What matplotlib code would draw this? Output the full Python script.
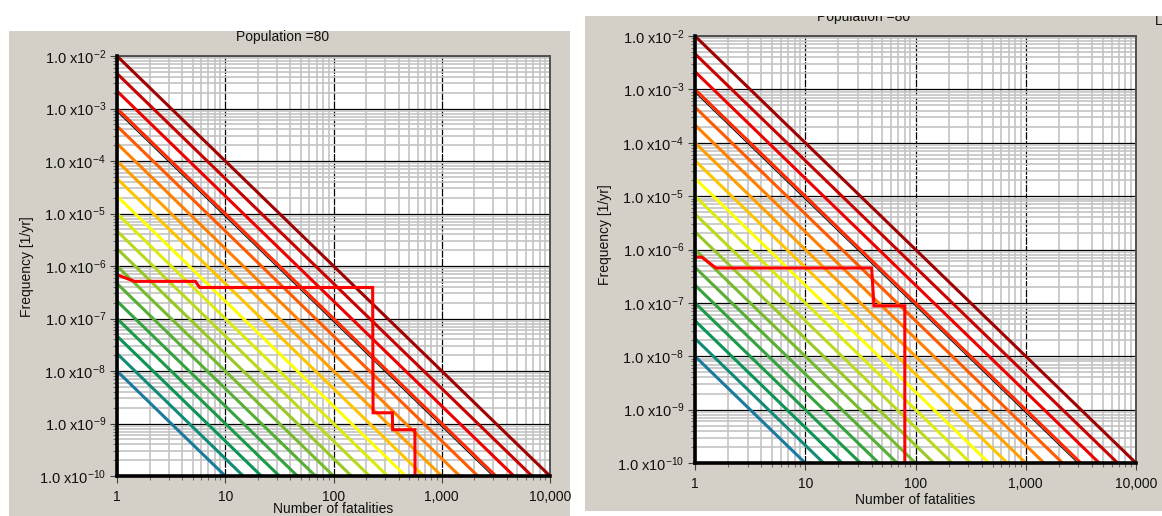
import matplotlib
matplotlib.use("Agg")
import matplotlib.pyplot as plt
from matplotlib.patches import Rectangle
from matplotlib.ticker import LogLocator, FuncFormatter, NullFormatter
from matplotlib.transforms import offset_copy
import numpy as np

plt.rcParams["font.family"] = ["Liberation Sans", "DejaVu Sans"]
plt.rcParams["mathtext.fontset"] = "custom"
plt.rcParams["mathtext.rm"] = "Liberation Sans"
plt.rcParams["mathtext.it"] = "Liberation Sans:italic"
plt.rcParams["mathtext.bf"] = "Liberation Sans:bold"

# frequency at N = 1 of each criterion line (F = C / N^2)
line_f1 = [1e-8, 2.15e-8, 4.64e-8, 1e-7, 2.15e-7, 4.64e-7, 1e-6, 2.15e-6, 4.64e-6,
           1e-5, 2.15e-5, 4.64e-5, 1e-4, 2.15e-4, 4.64e-4, 1e-3, 2.15e-3, 4.64e-3, 1e-2]
line_colors = ["#1b7a9e", "#138a78", "#0c9356", "#1c9a47", "#36a23d", "#56ae35",
               "#76bb2d", "#98c826", "#bcd81c", "#dcea10", "#ffff00", "#ffc400",
               "#ffa000", "#ff8000", "#ff5a00", "#ff2a00", "#ee0000", "#c80000", "#a00000"]
F_MIN = 1e-10
F_MAX = 1e-2
N_MIN = 1
N_MAX = 1e4

# F-N curves of the two cases
left_n = [1, 1.45, 5.3, 5.8, 230, 232, 350, 352, 565, 567]
left_f = [6.8e-7, 5.1e-7, 5.1e-7, 3.9e-7, 3.9e-7, 1.6e-9, 1.6e-9, 7.6e-10, 7.6e-10, 1e-10]
right_n = [1, 1.15, 1.55, 40, 42, 80, 80]
right_f = [7.2e-7, 7.2e-7, 4.5e-7, 4.5e-7, 8.8e-8, 8.8e-8, 1e-10]

W, H = 1162, 516
PANEL_BG = "#d4d0c8"


def px_box(x0, y0, x1, y1):
    """pixel box (top-left origin) -> figure fraction rect"""
    return [x0 / W, 1 - y1 / H, (x1 - x0) / W, (y1 - y0) / H]


def y_fmt(v, pos):
    e = int(round(np.log10(v)))
    return "1.0 x10$^{%d}$" % e


def x_fmt(v, pos):
    return f"{int(round(v)):,}"


def draw_panel(fig, ax, curve_n, curve_f):
    ax.set_xscale("log")
    ax.set_yscale("log")
    ax.set_xlim(N_MIN, N_MAX)
    ax.set_ylim(F_MIN, F_MAX)

    for f1, c in zip(line_f1, line_colors):
        n_end = np.sqrt(f1 / F_MIN)
        ax.plot([N_MIN, n_end], [f1, F_MIN], color=c, lw=2.2,
                solid_capstyle="butt", zorder=3)
        if f1 == 1e-3:
            shifted = offset_copy(ax.transData, fig=fig, x=0, y=-3, units="dots")
            ax.plot([N_MIN, n_end], [f1, F_MIN], color="black", lw=0.7,
                    transform=shifted, zorder=2)

    ax.plot(curve_n, curve_f, color="#ff0000", lw=2.2, zorder=4,
            solid_joinstyle="miter")

    ax.xaxis.set_major_locator(LogLocator(base=10, numticks=20))
    ax.xaxis.set_minor_locator(LogLocator(base=10, subs=np.arange(2, 10), numticks=100))
    ax.yaxis.set_major_locator(LogLocator(base=10, numticks=20))
    ax.yaxis.set_minor_locator(LogLocator(base=10, subs=np.arange(2, 10), numticks=100))
    ax.xaxis.set_major_formatter(FuncFormatter(x_fmt))
    ax.yaxis.set_major_formatter(FuncFormatter(y_fmt))
    ax.xaxis.set_minor_formatter(NullFormatter())
    ax.yaxis.set_minor_formatter(NullFormatter())

    ax.set_axisbelow(True)
    ax.grid(which="minor", color="#c4c4c4", lw=1.2)
    ax.yaxis.grid(which="major", color="black", lw=0.9)
    ax.xaxis.grid(which="major", color="black", lw=0.9, ls=(0, (6, 1)))

    for side in ("left", "bottom"):
        ax.spines[side].set_linewidth(2.6)
        ax.spines[side].set_color("black")
        ax.spines[side].set_zorder(5)
    for side in ("top", "right"):
        ax.spines[side].set_linewidth(1.4)
        ax.spines[side].set_color("#505050")

    ax.tick_params(which="major", direction="out", length=5, width=0.8,
                   color="#404040", labelsize=10, labelcolor="#111111", pad=3)
    ax.tick_params(which="minor", direction="out", length=3, width=0.8,
                   color="#707070")
    ax.tick_params(axis="x", which="major", pad=5)
    ax.tick_params(axis="y", which="major", labelsize=10.5)


fig = plt.figure(figsize=(W / 100, H / 100), dpi=100, facecolor="white")

# grey window backgrounds
fig.add_artist(Rectangle((9 / W, 0), 561 / W, 485 / H, transform=fig.transFigure,
                         facecolor=PANEL_BG, edgecolor="none", zorder=-1))
fig.add_artist(Rectangle((585 / W, 5 / H), 577 / W, 495 / H, transform=fig.transFigure,
                         facecolor=PANEL_BG, edgecolor="none", zorder=-1))

ax_l = fig.add_axes(px_box(117, 56, 550, 476))
ax_r = fig.add_axes(px_box(695, 36, 1136, 463))
draw_panel(fig, ax_l, left_n, left_f)
draw_panel(fig, ax_r, right_n, right_f)

txt = dict(fontsize=10, color="#111111")
fig.text(283 / W, 1 - 41 / H, "Population =80", ha="center", va="baseline", **txt)
fig.text(864 / W, 1 - 21 / H, "Population =80", ha="center", va="baseline", **txt)
fig.text(333 / W, 1 - 513 / H, "Number of fatalities", ha="center", va="baseline", **txt)
fig.text(915 / W, 1 - 504 / H, "Number of fatalities", ha="center", va="baseline", **txt)
fig.text(27 / W, 1 - 267 / H, "Frequency [1/yr]", ha="center", va="center",
         rotation=90, **txt)
fig.text(605 / W, 1 - 235 / H, "Frequency [1/yr]", ha="center", va="center",
         rotation=90, **txt)
fig.text(1155 / W, 1 - 25 / H, "L", ha="left", va="baseline", **txt)

# window edge above the right panel hides the top of its title
fig.add_artist(Rectangle((0.5, 1 - 16 / H), 0.5, 16 / H, transform=fig.transFigure,
                         facecolor="white", edgecolor="none", zorder=10))

fig.savefig("out.png", dpi=100, facecolor="white")
